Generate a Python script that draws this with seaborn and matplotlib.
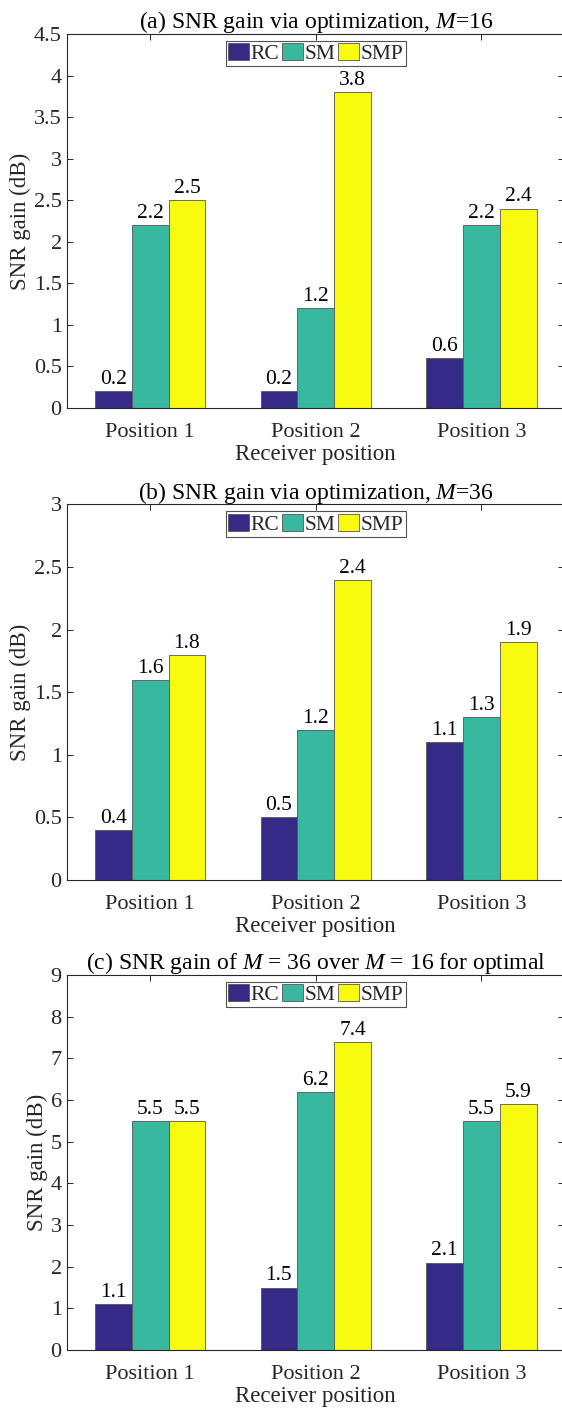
import matplotlib
matplotlib.use("Agg")
import matplotlib.pyplot as plt
from matplotlib.patches import Patch
from matplotlib.ticker import MultipleLocator, FuncFormatter
import seaborn as sns
import pandas as pd

# ---- data ----
positions = ["Position 1", "Position 2", "Position 3"]
methods = ["RC", "SM", "SMP"]

rc_m16 = [0.2, 0.2, 0.6]
sm_m16 = [2.2, 1.2, 2.2]
smp_m16 = [2.5, 3.8, 2.4]

rc_m36 = [0.4, 0.5, 1.1]
sm_m36 = [1.6, 1.2, 1.3]
smp_m36 = [1.8, 2.4, 1.9]

rc_diff = [1.1, 1.5, 2.1]
sm_diff = [5.5, 6.2, 5.5]
smp_diff = [5.5, 7.4, 5.9]

titles = [
    r"(a) SNR gain via optimization, $M$=16",
    r"(b) SNR gain via optimization, $M$=36",
    r"(c) SNR gain of $M$ = 36 over $M$ = 16 for optimal",
]
y_max = [4.5, 3.0, 9.0]
y_step = [0.5, 0.5, 1.0]

colors = ["#352A87", "#38B89E", "#F9FB0E"]

# ---- style ----
sns.set_style("ticks")
plt.rcParams["font.family"] = ["Liberation Serif", "DejaVu Serif"]
plt.rcParams["mathtext.fontset"] = "custom"
plt.rcParams["mathtext.rm"] = "Liberation Serif"
plt.rcParams["mathtext.it"] = "Liberation Serif:italic"
plt.rcParams["axes.edgecolor"] = "#262626"
plt.rcParams["axes.linewidth"] = 0.8

W, H = 562, 1410
fig = plt.figure(figsize=(W / 100, H / 100), dpi=100)

# axes boxes in pixels: (left, top, width, height)
boxes = [(67.3, 34, 497, 374), (67.3, 504.5, 497, 375.5), (67.3, 975, 497, 375)]

panels = [
    (rc_m16, sm_m16, smp_m16),
    (rc_m36, sm_m36, smp_m36),
    (rc_diff, sm_diff, smp_diff),
]

for i, (vals, (l, t, w, h)) in enumerate(zip(panels, boxes)):
    ax = fig.add_axes([l / W, (H - t - h) / H, w / W, h / H])
    df = pd.DataFrame({
        "pos": positions * 3,
        "method": [m for m in methods for _ in positions],
        "gain": list(vals[0]) + list(vals[1]) + list(vals[2]),
    })
    sns.barplot(data=df, x="pos", y="gain", hue="method", hue_order=methods,
                order=positions, palette=colors, width=0.667, gap=0,
                edgecolor="#555555", linewidth=0.6, saturation=1,
                legend=False, ax=ax, err_kws={"linewidth": 0})
    for cont in ax.containers:
        ax.bar_label(cont, fmt="%g", padding=1.5, fontsize=15.5, color="black")

    ax.set_xlim(-0.5, 2.5)
    ax.set_ylim(0, y_max[i])
    ax.yaxis.set_major_locator(MultipleLocator(y_step[i]))
    ax.yaxis.set_major_formatter(FuncFormatter(lambda v, p: f"{v:g}"))
    ax.set_axisbelow(True)
    ax.tick_params(direction="in", length=4, width=0.7, top=True, right=True,
                   labelsize=16, colors="#262626")
    ax.tick_params(axis="x", pad=11)
    ax.tick_params(axis="y", pad=4)
    for sp in ax.spines.values():
        sp.set_visible(True)
    ax.set_xlabel("Receiver position", fontsize=16.5, color="#262626", labelpad=1)
    ax.set_ylabel("SNR gain (dB)", fontsize=16.5, color="#262626", labelpad=2)
    ax.set_title(titles[i], fontsize=17, color="black", pad=4)

    handles = [Patch(facecolor=c, edgecolor="#555555", linewidth=0.6) for c in colors]
    leg = ax.legend(handles, methods, loc="upper center", ncol=3,
                    bbox_to_anchor=(0.5, 1 - 7 / h), fontsize=15.5,
                    frameon=True, fancybox=False, edgecolor="#262626",
                    handlelength=0.95, handleheight=0.85, handletextpad=0.1,
                    columnspacing=0.12, borderpad=0.1, borderaxespad=0)
    leg.get_frame().set_linewidth(0.8)

fig.savefig("out.png", dpi=100)
